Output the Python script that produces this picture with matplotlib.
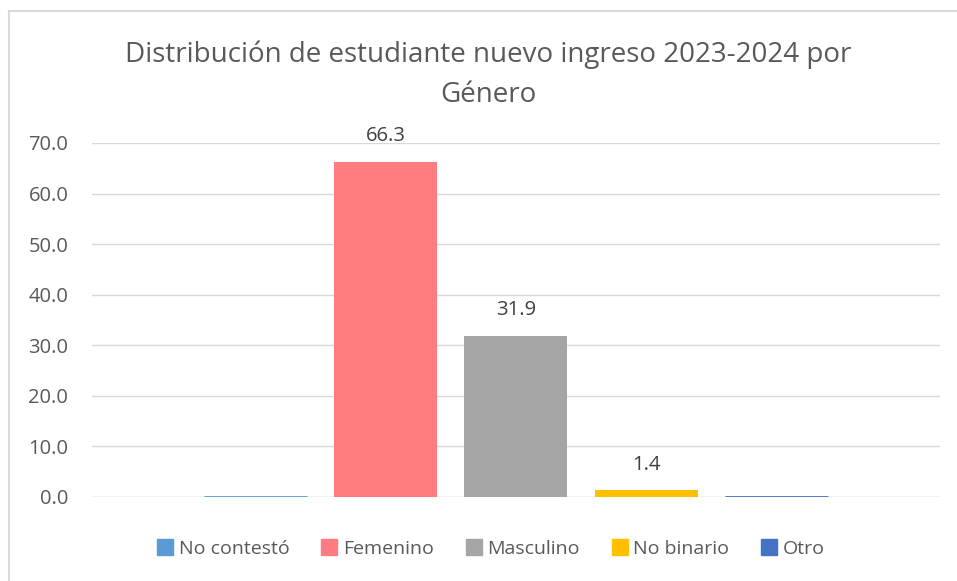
import matplotlib.pyplot as plt
from matplotlib.lines import Line2D

plt.rcParams['font.family'] = ['Open Sans', 'DejaVu Sans']

# datos
categorias = ['No contestó', 'Femenino', 'Masculino', 'No binario', 'Otro']
porcentajes = [0.0, 66.3, 31.9, 1.4, 0.0]
colores = ['#5B9BD5', '#FF7C80', '#A5A5A5', '#FFC000', '#4472C4']
yticks = [0, 10, 20, 30, 40, 50, 60, 70]

texto = '#595959'

fig = plt.figure(figsize=(9.57, 5.81), dpi=100)
ax = fig.add_axes([0.0961, 0.1446, 0.8861, 0.6093])

x = list(range(len(categorias)))
bars = ax.bar(x, porcentajes, width=0.79, color=colores, zorder=3)

# barras en cero: Excel las dibuja como una linea
for xi, v, c in zip(x, porcentajes, colores):
    if v == 0:
        ax.plot([xi - 0.395, xi + 0.395], [0, 0], color=c, lw=2, zorder=4,
                solid_capstyle='butt')
    else:
        ax.text(xi, v + 5, f'{v:.1f}', ha='center', va='center',
                fontsize=14.5, color='#404040', clip_on=False)

ax.set_xlim(-1.25, 5.25)
ax.set_ylim(0, 70)
ax.set_yticks(yticks)
ax.set_yticklabels([f'{t:.1f}' for t in yticks], fontsize=14.5, color=texto)
ax.set_xticks([])
ax.tick_params(axis='y', length=0, pad=17)
ax.grid(axis='y', color='#D9D9D9', lw=1, zorder=0)
for s in ax.spines.values():
    s.set_visible(False)
ax.axhline(0, color='#D9D9D9', lw=1, zorder=1)

fig.text(0.51, 0.906, 'Distribución de estudiante nuevo ingreso 2023-2024 por',
         ha='center', va='center', fontsize=20, color=texto)
fig.text(0.51, 0.836, 'Género', ha='center', va='center', fontsize=20,
         color=texto)

handles = [Line2D([], [], marker='s', linestyle='none', markersize=11,
                  markerfacecolor=c, markeredgecolor=c) for c in colores]
fig.legend(handles, categorias, loc='center', bbox_to_anchor=(0.512, 0.055),
           ncol=5, frameon=False, fontsize=14, labelcolor=texto,
           handletextpad=0.2, columnspacing=1.55, handlelength=1.0)

# borde del grafico (izquierda y arriba)
fig.add_artist(Line2D([0.009, 0.009], [0, 0.981], color='#D9D9D9', lw=1.5))
fig.add_artist(Line2D([0.009, 1.0], [0.981, 0.981], color='#D9D9D9', lw=1.5))

fig.savefig('out.png', dpi=100)
